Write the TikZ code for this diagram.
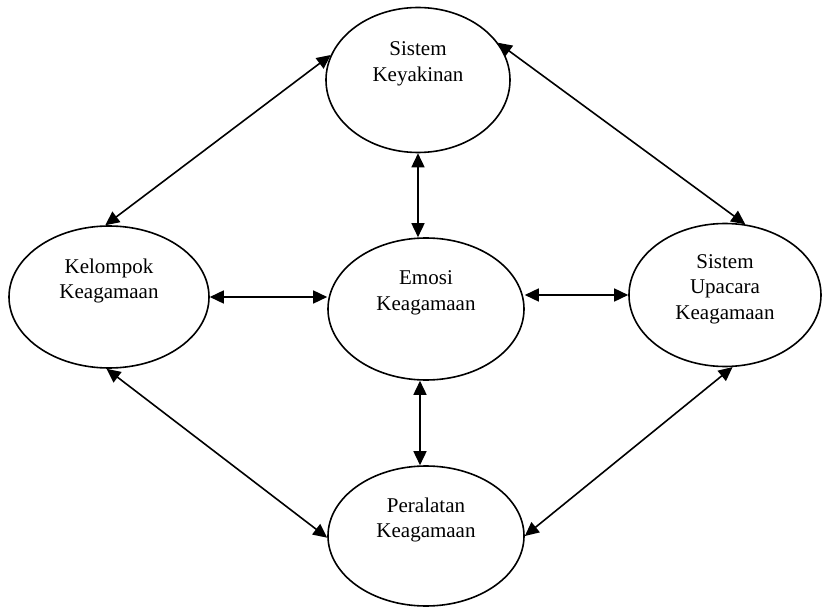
\documentclass[tikz,border=0pt]{standalone}
\usepackage{fontspec}
\setmainfont{Liberation Serif}
\usetikzlibrary{shapes.geometric,arrows.meta}
\tikzset{
  ell/.style={ellipse, draw, line width=1.6pt, inner sep=0pt},
  txt/.style={align=center, font=\fontsize{21}{25.5}\selectfont, inner sep=0pt},
  arr/.style={{Triangle[length=14pt,width=13pt]}-{Triangle[length=14pt,width=13pt]}, line width=1.6pt}
}

\begin{document}
\begin{tikzpicture}[x=1pt, y=-1pt]
\useasboundingbox (0,0) rectangle (823,607);
% the five ellipses
\node[ell, minimum width=184pt, minimum height=145pt, label={[txt, yshift=16pt]center:Sistem\\Keyakinan}] (sk) at (418,80) {};
\node[ell, minimum width=200pt, minimum height=142pt, label={[txt, yshift=16pt]center:Kelompok\\Keagamaan}] (kk) at (109,297) {};
\node[ell, minimum width=196pt, minimum height=142pt, label={[txt, yshift=16pt]center:Emosi\\Keagamaan}] (ek) at (426,309) {};
\node[ell, minimum width=192pt, minimum height=143pt, label={[txt, yshift=6pt]center:Sistem\\Upacara\\Keagamaan}] (su) at (725,295) {};
\node[ell, minimum width=196pt, minimum height=140pt, label={[txt, yshift=16pt]center:Peralatan\\Keagamaan}] (pk) at (426,536) {};

% links
\draw[arr] (kk.93) -- (sk.164);
\draw[arr] (sk.25) -- (su.74);
\draw[arr] (kk.268) -- (pk.181);
\draw[arr] (su.276) -- (pk.east);
\draw[arr] (kk.east) -- (kk.east -| ek.west);
\draw[arr] (su.west -| ek.east) -- (su.west);
\draw[arr] (sk.south) -- (sk.south |- ek.north);
\draw[arr] (pk.north -| 420,0) -- (ek.south -| 420,0);
\end{tikzpicture}
\end{document}
